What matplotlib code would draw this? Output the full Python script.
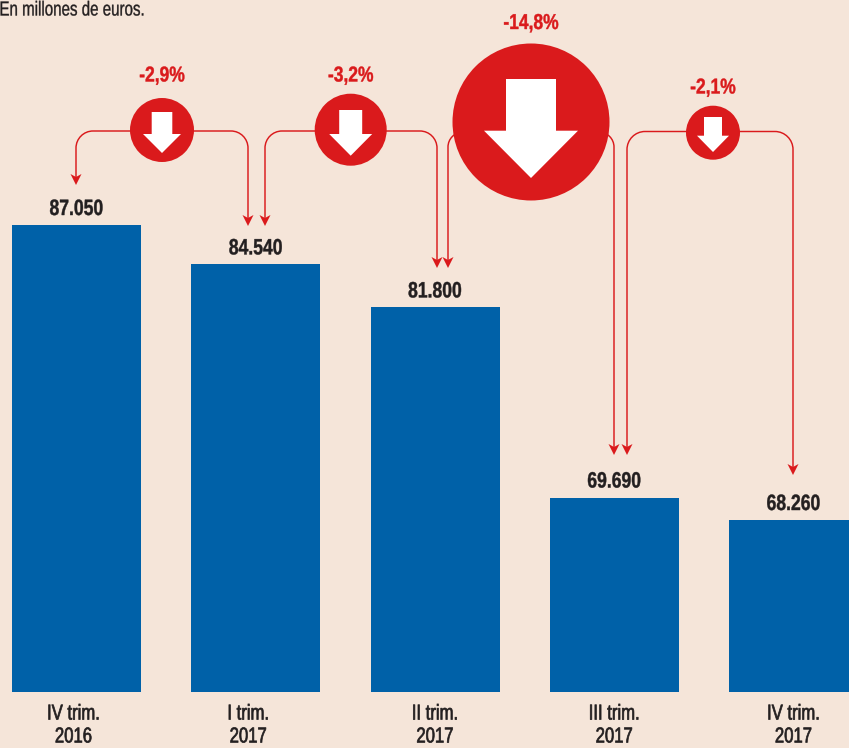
import matplotlib
matplotlib.use("Agg")
import matplotlib.pyplot as plt
from matplotlib.patches import Circle, PathPatch, Polygon
from matplotlib.path import Path
from matplotlib.patheffects import AbstractPathEffect
from matplotlib.transforms import Affine2D

FONT = "Liberation Sans"

quarters = ["IV trim.\n2016", "I trim.\n2017", "II trim.\n2017", "III trim.\n2017", "IV trim.\n2017"]
values = [87050, 84540, 81800, 69690, 68260]
value_labels = ["87.050", "84.540", "81.800", "69.690", "68.260"]
changes = ["-2,9%", "-3,2%", "-14,8%", "-2,1%"]

BG = "#F5E5D9"
BLUE = "#0061A8"
RED = "#DA1A1C"
INK = "#231F20"
W, H = 849, 748


class Condense(AbstractPathEffect):
    """Narrow the glyphs of a real text around its own pivot, as a condensed face would look."""

    def __init__(self, sx, left=False, stroke=0.0):
        super().__init__()
        self.sx, self.left, self.stroke = sx, left, stroke

    def draw_path(self, renderer, gc, tpath, affine, rgbFace=None):
        box = tpath.transformed(affine).get_extents()
        px = box.x0 if self.left else (box.x0 + box.x1) / 2
        tr = affine + Affine2D().translate(-px, 0).scale(self.sx, 1).translate(px, 0)
        gc0 = renderer.new_gc()
        gc0.copy_properties(gc)
        if self.stroke and rgbFace is not None:
            gc0.set_foreground(rgbFace)
            gc0.set_linewidth(self.stroke)
        renderer.draw_path(gc0, tpath, tr, rgbFace)
        gc0.restore()


fig = plt.figure(figsize=(W / 100, H / 100), dpi=100, facecolor=BG)
ax = fig.add_axes([0, 0, 1, 1], facecolor=BG)
step = 179.25
scale = 0.0157
base = 57305
ax.set_xlim(-76.5 / step, (W - 76.5) / step)
ax.set_ylim(base - (H - 692) / scale, base + 692 / scale)
ax.axis("off")
ax.bar(range(5), [v - base for v in values], bottom=base, width=129 / step, color=BLUE, linewidth=0)

# overlay in pixel coordinates for the annotation graphics
ov = fig.add_axes([0, 0, 1, 1], facecolor="none")
ov.set_xlim(0, W)
ov.set_ylim(H, 0)
ov.axis("off")


def connector(x0, y0, x1, tip, r):
    s = 1 if x1 > x0 else -1
    k = 0.45 * r
    verts = [(x0, y0), (x1 - s * r, y0), (x1 - s * k, y0), (x1, y0 + k), (x1, y0 + r), (x1, tip - 6)]
    codes = [Path.MOVETO, Path.LINETO, Path.CURVE4, Path.CURVE4, Path.CURVE4, Path.LINETO]
    ov.add_patch(PathPatch(Path(verts, codes), fc="none", ec=RED, lw=1.05, zorder=2))
    ov.add_patch(Polygon([(x1 - 5.5, tip - 11), (x1, tip - 8), (x1 + 5.5, tip - 11), (x1, tip)],
                         closed=True, fc=RED, ec="none", zorder=2))


connector(162, 131, 76, 185, 17)
connector(162, 131, 248, 226, 17)
connector(351, 131, 265, 226, 17)
connector(351, 131, 437, 268, 17)
connector(531, 132, 448, 268, 15)
connector(531, 132, 614, 455, 15)
connector(713, 131.5, 627, 455, 18)
connector(713, 131.5, 793, 475, 18)

# circle: cx, cy, r, shaft half-width, top, shoulder, head half-width, tip
badges = [
    (162, 130, 32, 10.3, 112, 134, 19, 153),
    (350.7, 129.7, 36, 11.5, 110, 134, 21.5, 155.7),
    (531, 122, 78.5, 25, 79, 130.7, 47, 178),
    (713, 132.7, 27, 9, 117, 135.7, 16, 152),
]
label_y = [76, 76, 23.5, 88]
for (cx, cy, r, sw, top, sh, hw, tip), txt, ly in zip(badges, changes, label_y):
    ov.add_patch(Circle((cx, cy), r, fc=RED, ec="none", zorder=3))
    ov.add_patch(Polygon([(cx - sw, top), (cx + sw, top), (cx + sw, sh), (cx + hw, sh), (cx, tip),
                          (cx - hw, sh), (cx - sw, sh)], closed=True, fc="white", ec="none", zorder=4))
    ov.text(cx, ly, txt, color=RED, fontsize=15.5, fontweight="bold", family=FONT, ha="center", va="center",
            path_effects=[Condense(0.81, stroke=0.3)])

for i, (v, lab) in enumerate(zip(values, value_labels)):
    ax.annotate(lab, (i, v), xytext=(0, 5), textcoords="offset pixels", ha="center", va="bottom",
                color=INK, fontsize=16, fontweight="bold", family=FONT, path_effects=[Condense(0.79, stroke=0.3)])

label_dx = [-3, -7.5, 0, 0, 0]
for i, (q, dx) in enumerate(zip(quarters, label_dx)):
    ax.annotate(q, (i, base), xytext=(dx, -33.5), textcoords="offset pixels", ha="center", va="center",
                color=INK, fontsize=15.5, family=FONT, linespacing=1.12, annotation_clip=False,
                path_effects=[Condense(0.775, stroke=0.5)])

ov.text(-1, 10, "En millones de euros.", color=INK, fontsize=14.6, family=FONT, ha="left", va="center",
        path_effects=[Condense(0.745, left=True, stroke=0.25)])

fig.savefig("out.png", dpi=100, facecolor=BG)
